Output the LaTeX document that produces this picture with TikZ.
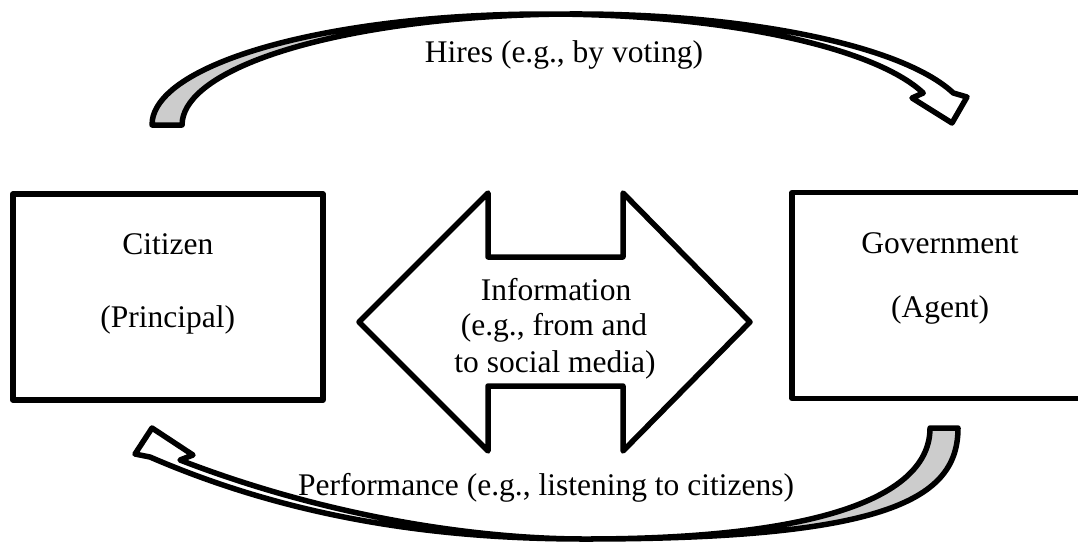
\documentclass[tikz,border=0pt]{standalone}
\usepackage{fontspec}
\setmainfont{Liberation Serif}
\definecolor{backface}{RGB}{204,204,204}
\begin{document}
\begin{tikzpicture}[x=1pt,y=-1pt,
  outline/.style={draw=black,line width=5.5pt,line join=round},
  boxnode/.style={outline,fill=white,inner sep=0pt},
  txt/.style={font=\fontsize{31.5}{36}\selectfont,anchor=base,inner sep=0pt},
  ell/.style={x radius=394,y radius=111}]
\useasboundingbox (0,0) rectangle (1078,544);
\clip (0,0) rectangle (1078,544);

% the two parties
\node[boxnode,minimum width=310pt,minimum height=206pt] (citizen) at (167.8,297) {};
\node[boxnode,minimum width=298pt,minimum height=205.6pt] (government) at (941,295.5) {};
\node[txt] (citizenname) at (167.8,254) {Citizen};
\node[txt] (citizenrole) at (167.8,327) {(Principal)};
\node[txt] (govname) at (940,253) {Government};
\node[txt] (govrole) at (940,317) {(Agent)};

% two-way information arrow
\draw[outline] (359,322) -- (488,193) -- (488,257) -- (623,257) -- (623,193)
  -- (750,322) -- (623,451) -- (623,386) -- (488,386) -- (488,451) -- cycle;
\node[txt] (info1) at (556,300) {Information};
\node[txt] (info2) at (554,335) {(e.g., from and};
\node[txt] (info3) at (555,372) {to social media)};

% upper curved arrow: citizens hire the government
\fill[backface] (152,125) arc[start angle=180,end angle=272.18,ell]
  arc[start angle=267.82,end angle=180,ell] -- cycle;
\draw[outline] (152,125) arc[start angle=180,end angle=343.24,ell]
  -- (912,98) -- (952,123) -- (967,97) -- (953.3,93)
  arc[start angle=343.24,end angle=180,ell] -- cycle;
\node[txt] (hires) at (564,62) {Hires (e.g., by voting)};

% lower curved arrow: the government performs for citizens
\fill[backface] (958,428) .. controls (958,498) and (890,539) .. (585,539)
  .. controls (815,539) and (930,498) .. (930,428) -- cycle;
\draw[outline] (958,428) .. controls (958,498) and (890,539) .. (585,539)
  .. controls (480,539) and (330,518) .. (180,460)
  -- (193,455) -- (152,428) -- (135,454) -- (150,457)
  .. controls (300,522) and (450,539) .. (585,539)
  .. controls (815,539) and (930,498) .. (930,428) -- cycle;
\node[txt] (performance) at (546,495) {Performance (e.g., listening to citizens)};
\end{tikzpicture}
\end{document}
